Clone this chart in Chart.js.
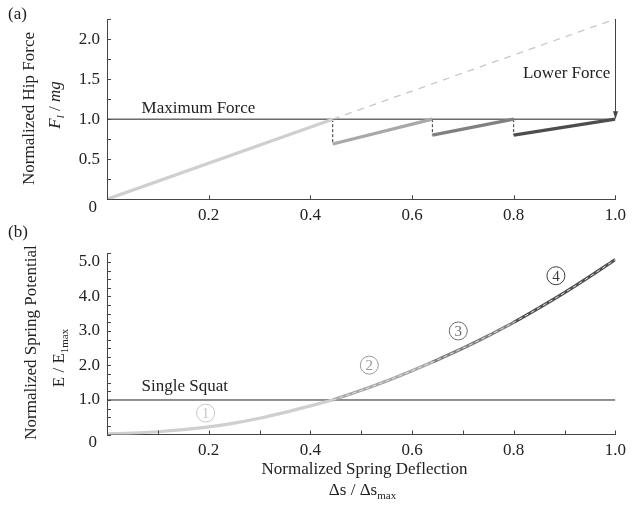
<!DOCTYPE html>
<html>
<head>
<meta charset="utf-8">
<script src="https://cdn.jsdelivr.net/npm/chart.js@4.4.0/dist/chart.umd.min.js"></script>
<style>
html, body { margin: 0; padding: 0; background: #fff; }
#wrap { position: relative; width: 632px; height: 508px; }
#forceChart { position: absolute; left: 0; top: 0; }
#energyChart { position: absolute; left: 0; top: 222px; }
</style>
</head>
<body>
<div id="wrap">
  <canvas id="forceChart" width="632" height="222" style="width:632px;height:222px"></canvas>
  <canvas id="energyChart" width="632" height="286" style="width:632px;height:286px"></canvas>
</div>
<script>
// squat segments (normalized deflection)
const squatStart = [0, 0.444, 0.64, 0.8];
const squatEnd = [0.444, 0.64, 0.8, 1.0];
const forceAtStart = [0, 0.69, 0.8, 0.8];
const forceAtEnd = [1.0, 1.0, 1.0, 1.0];
const squatColors = ['#cfcfcf', '#a8a8a8', '#808080', '#4d4d4d'];
const labelColors = ['#c8c8c8', '#9a9a9a', '#6e6e6e', '#3c3c3c'];

// single squat continued (dashed)
const extensionX = [0.444, 1.0];
const extensionY = [1.0, 2.25];
const maxForce = 1.0;
const lowerForceArrow = [2.25, 1.0];   // at deflection 1.0

// spring potential curve
const deflection = [0, 0.05, 0.1, 0.15, 0.2, 0.25, 0.3, 0.35, 0.4, 0.444, 0.5, 0.55, 0.6, 0.64, 0.7, 0.75, 0.8, 0.85, 0.9, 0.95, 1.0];
const energy = [0.02, 0.04, 0.08, 0.14, 0.22, 0.33, 0.47, 0.64, 0.83, 1.0, 1.28, 1.55, 1.85, 2.1, 2.5, 2.86, 3.25, 3.67, 4.11, 4.58, 5.07];
const singleSquat = 1.0;

// circled squat numbers
const squatLabels = ['1', '2', '3', '4'];
const squatLabelX = [0.194, 0.516, 0.691, 0.883];
const squatLabelY = [0.62, 2.01, 3.0, 4.6];

const FONT = '"Liberation Serif", "Times New Roman", serif';
Chart.defaults.font.family = FONT;
Chart.defaults.font.size = 17;
Chart.defaults.color = '#222';

function line(points, color, width, dash, order) {
    return {
        data: points,
        borderColor: color,
        borderWidth: width,
        borderDash: dash || [],
        pointRadius: 0,
        fill: false,
        tension: 0,
        order: order
    };
}

function fontFor(p) {
    return (p.italic ? 'italic ' : '') + (p.sub ? '11px ' : '17px ') + FONT;
}

function drawRich(ctx, parts, cx, cy, rotate) {
    ctx.save();
    ctx.translate(cx, cy);
    if (rotate) ctx.rotate(-Math.PI / 2);
    let total = 0;
    parts.forEach(p => { ctx.font = fontFor(p); p.w = ctx.measureText(p.t).width; total += p.w; });
    let x = -total / 2;
    ctx.textBaseline = 'middle';
    ctx.textAlign = 'left';
    ctx.fillStyle = '#222';
    parts.forEach(p => { ctx.font = fontFor(p); ctx.fillText(p.t, x, p.sub ? 5 : 0); x += p.w; });
    ctx.restore();
}

function text(ctx, t, x, y, align) {
    ctx.save();
    ctx.font = '17px ' + FONT;
    ctx.fillStyle = '#222';
    ctx.textAlign = align || 'left';
    ctx.textBaseline = 'middle';
    ctx.fillText(t, x, y);
    ctx.restore();
}

// small tick marks pointing into the plot
const innerTicks = {
    id: 'innerTicks',
    afterDraw(chart) {
        const ctx = chart.ctx, xs = chart.scales.x, ys = chart.scales.y;
        const a = chart.chartArea;
        ctx.save();
        ctx.strokeStyle = '#444';
        ctx.lineWidth = 1;
        ctx.beginPath();
        xs.ticks.forEach(t => {
            const px = Math.round(xs.getPixelForValue(t.value)) + 0.5;
            ctx.moveTo(px, a.bottom); ctx.lineTo(px, a.bottom - 4);
        });
        ys.ticks.forEach(t => {
            const py = Math.round(ys.getPixelForValue(t.value)) + 0.5;
            ctx.moveTo(a.left, py); ctx.lineTo(a.left + 4, py);
        });
        ctx.stroke();
        // zero label sits a bit lower than the axis
        text(ctx, '0', a.left - 10, ys.getPixelForValue(0) + 8, 'right');
        ctx.restore();
    }
};

function scales(xStep, xLabel, yMax, yLabel, xHeight) {
    return {
        x: {
            type: 'linear', min: 0, max: 1,
            border: { display: true, color: '#444', width: 1 },
            grid: { display: false, drawTicks: false },
            ticks: { stepSize: xStep, autoSkip: false, maxRotation: 0, padding: 6, callback: xLabel },
            afterFit: s => { s.height = xHeight; }
        },
        y: {
            type: 'linear', min: 0, max: yMax,
            border: { display: true, color: '#444', width: 1 },
            grid: { display: false, drawTicks: false },
            ticks: { stepSize: 0.25, autoSkip: false, padding: 7, callback: yLabel },
            afterFit: s => { s.width = 107; }
        }
    };
}

// ---------- (a) hip force ----------
const forceSets = [];
for (let i = 0; i < 4; i++) {
    forceSets.push(line([{ x: squatStart[i], y: forceAtStart[i] }, { x: squatEnd[i], y: forceAtEnd[i] }], squatColors[i], 3.2, null, 1));
    if (i > 0)
        forceSets.push(line([{ x: squatStart[i], y: maxForce }, { x: squatStart[i], y: forceAtStart[i] }], '#333', 1, [3, 2], 2));
}
forceSets.push(line([{ x: extensionX[0], y: extensionY[0] }, { x: extensionX[1], y: extensionY[1] }], '#c8c8c8', 1.3, [7, 6], 3));
forceSets.push(line([{ x: 0, y: maxForce }, { x: 1, y: maxForce }], '#222', 1, null, 4));

new Chart(document.getElementById('forceChart'), {
    type: 'line',
    data: { datasets: forceSets },
    options: {
        responsive: false,
        animation: false,
        layout: { padding: { left: 0, right: 10, top: 19, bottom: 0 } },
        plugins: { legend: { display: false }, tooltip: { enabled: false } },
        scales: scales(0.2,
            v => (v > 0 ? v.toFixed(1) : ''),
            2.25,
            v => (v > 0 && Math.abs(v * 2 - Math.round(v * 2)) < 1e-6 ? v.toFixed(1) : ''),
            22.7)
    },
    plugins: [innerTicks, {
        id: 'forceNotes',
        afterDraw(chart) {
            const ctx = chart.ctx, xs = chart.scales.x, ys = chart.scales.y;
            text(ctx, '(a)', 8, 15);
            text(ctx, 'Maximum Force', xs.getPixelForValue(0.068), ys.getPixelForValue(maxForce) - 11);
            text(ctx, 'Lower Force', xs.getPixelForValue(0.99), ys.getPixelForValue(1.57), 'right');
            // arrow
            const ax = Math.round(xs.getPixelForValue(1.0)) + 0.5;
            const y0 = ys.getPixelForValue(lowerForceArrow[0]);
            const y1 = ys.getPixelForValue(lowerForceArrow[1]);
            ctx.save();
            ctx.strokeStyle = '#444';
            ctx.fillStyle = '#444';
            ctx.lineWidth = 1;
            ctx.beginPath(); ctx.moveTo(ax, y0); ctx.lineTo(ax, y1 - 6); ctx.stroke();
            ctx.beginPath(); ctx.moveTo(ax - 2.5, y1 - 8); ctx.lineTo(ax + 2.5, y1 - 8); ctx.lineTo(ax, y1); ctx.closePath(); ctx.fill();
            ctx.restore();
            drawRich(ctx, [{ t: 'Normalized Hip Force' }], 30, 108.5, true);
            drawRich(ctx, [{ t: 'F', italic: true }, { t: 'l', italic: true, sub: true }, { t: ' / ' }, { t: 'mg', italic: true }], 56, 105, true);
        }
    }]
});

// ---------- (b) spring potential ----------
const energySets = [];
for (let i = 0; i < 4; i++) {
    const pts = [];
    deflection.forEach((s, k) => {
        if (s >= squatStart[i] - 1e-9 && s <= squatEnd[i] + 1e-9) pts.push({ x: s, y: energy[k] });
    });
    const ds = line(pts, squatColors[i], 3.2, null, 2);
    ds.cubicInterpolationMode = 'monotone';
    energySets.push(ds);
}
const overlay = [];
deflection.forEach((s, k) => { if (s >= extensionX[0] - 1e-9) overlay.push({ x: s, y: energy[k] }); });
const overlaySet = line(overlay, '#e2e2e2', 1, [4, 3], 1);
overlaySet.cubicInterpolationMode = 'monotone';
energySets.push(overlaySet);
energySets.push(line([{ x: 0, y: singleSquat }, { x: 1, y: singleSquat }], '#222', 1, null, 3));

new Chart(document.getElementById('energyChart'), {
    type: 'line',
    data: { datasets: energySets },
    options: {
        responsive: false,
        animation: false,
        layout: { padding: { left: 0, right: 10, top: 31.3, bottom: 0 } },
        plugins: { legend: { display: false }, tooltip: { enabled: false } },
        scales: scales(0.1,
            v => (v > 0 && Math.round(v * 10) % 2 === 0 ? v.toFixed(1) : ''),
            5.25,
            v => (v > 0 && Math.abs(v - Math.round(v)) < 1e-6 ? v.toFixed(1) : ''),
            73.5)
    },
    plugins: [innerTicks, {
        id: 'energyNotes',
        afterDraw(chart) {
            const ctx = chart.ctx, xs = chart.scales.x, ys = chart.scales.y;
            text(ctx, '(b)', 8, 11);
            text(ctx, 'Single Squat', xs.getPixelForValue(0.068), ys.getPixelForValue(singleSquat) - 13);
            squatLabels.forEach((n, i) => {
                const cx = xs.getPixelForValue(squatLabelX[i]);
                const cy = ys.getPixelForValue(squatLabelY[i]);
                ctx.save();
                ctx.strokeStyle = labelColors[i];
                ctx.fillStyle = labelColors[i];
                ctx.lineWidth = 1;
                ctx.beginPath(); ctx.arc(cx, cy, 9, 0, Math.PI * 2); ctx.stroke();
                ctx.font = '15px ' + FONT;
                ctx.textAlign = 'center';
                ctx.textBaseline = 'middle';
                ctx.fillText(n, cx, cy + 1);
                ctx.restore();
            });
            drawRich(ctx, [{ t: 'Normalized Spring Potential' }], 32, 120.5, true);
            drawRich(ctx, [{ t: 'E / E' }, { t: '1max', sub: true }], 60, 136, true);
            drawRich(ctx, [{ t: 'Normalized Spring Deflection' }], 364.5, 248, false);
            drawRich(ctx, [{ t: '\u0394s / \u0394s' }, { t: 'max', sub: true }], 362.5, 269, false);
        }
    }]
});
</script>
</body>
</html>
